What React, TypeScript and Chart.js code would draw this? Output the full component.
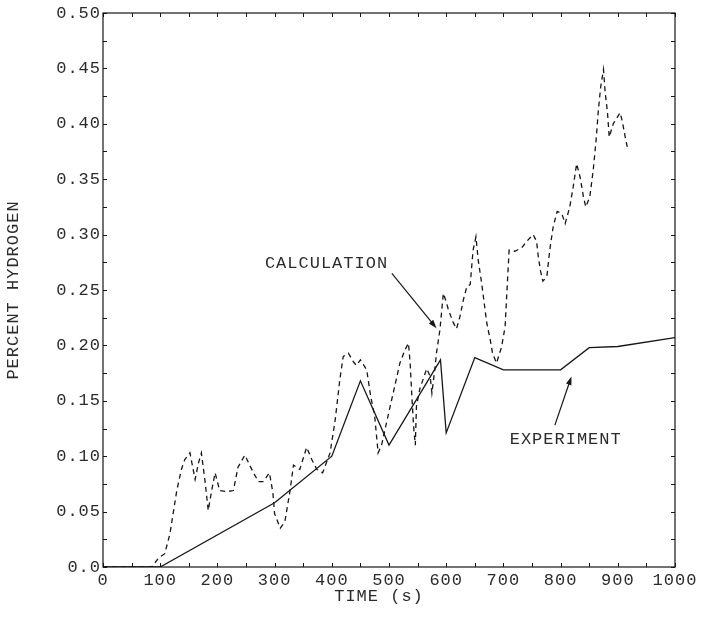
import React, { useEffect, useRef } from "react";
import { Chart, registerables } from "chart.js";

Chart.register(...registerables);

// Measured hydrogen concentration (solid line)
const experimentTime = [0, 100, 300, 400, 450, 500, 590, 600, 650, 700, 800, 850, 900, 1000];
const experimentPct = [0, 0, 0.058, 0.1, 0.168, 0.11, 0.187, 0.121, 0.189, 0.178, 0.178, 0.198, 0.199, 0.207];

// Computed hydrogen concentration (dashed line)
const calculationTime = [
  0, 40, 85, 97, 108, 117, 129, 137, 143, 152, 161, 167, 172, 178, 184, 190, 196, 204, 216, 228,
  236, 248, 263, 272, 280, 291, 297, 300, 310, 318, 327, 333, 344, 356, 365, 374, 384, 397, 406, 414,
  420, 429, 438, 443, 450, 461, 468, 475, 481, 487, 493, 502, 510, 519, 528, 534, 537, 540, 543, 546,
  548, 554, 566, 572, 575, 580, 583, 589, 595, 599, 604, 612, 618, 624, 630, 636, 642, 647, 652, 656,
  662, 671, 677, 681, 688, 697, 703, 706, 710, 720, 732, 741, 752, 758, 761, 765, 769, 776, 781, 787,
  794, 802, 808, 816, 822, 828, 834, 840, 844, 851, 857, 862, 866, 870, 875, 878, 882, 885, 892, 904,
  908, 914, 918,
];
const calculationPct = [
  0, 0, 0, 0.008, 0.012, 0.03, 0.069, 0.088, 0.097, 0.103, 0.079, 0.094, 0.103, 0.079, 0.051, 0.069, 0.085, 0.069, 0.068, 0.069,
  0.09, 0.101, 0.085, 0.077, 0.077, 0.085, 0.067, 0.048, 0.035, 0.041, 0.069, 0.092, 0.088, 0.108, 0.097, 0.088, 0.085, 0.103, 0.133, 0.169,
  0.19, 0.193, 0.185, 0.182, 0.187, 0.178, 0.154, 0.136, 0.103, 0.11, 0.124, 0.145, 0.163, 0.184, 0.196, 0.202, 0.184, 0.154, 0.127, 0.11,
  0.145, 0.161, 0.179, 0.172, 0.157, 0.178, 0.193, 0.214, 0.247, 0.241, 0.232, 0.221, 0.215, 0.226, 0.241, 0.253, 0.255, 0.286, 0.298, 0.277,
  0.256, 0.22, 0.205, 0.193, 0.184, 0.199, 0.217, 0.247, 0.286, 0.285, 0.288, 0.294, 0.3, 0.294, 0.28, 0.267, 0.258, 0.262, 0.286, 0.307,
  0.321, 0.319, 0.31, 0.325, 0.343, 0.364, 0.352, 0.334, 0.325, 0.334, 0.358, 0.385, 0.412, 0.433, 0.449, 0.428, 0.41, 0.388, 0.4, 0.41,
  0.402, 0.385, 0.376,
];

// Axis ranges and tick spacing
const timeRange = [0, 1000];
const pctRange = [0, 0.5];
const timeLabelStep = 100;
const timeMinorStep = 50;
const pctLabelStep = 0.05;
const pctMinorStep = 0.025;

// Callout labels: text position and arrow (tail -> head) in data units
const calloutText = ["CALCULATION", "EXPERIMENT"];
const calloutTextAt = [
  [283, 0.274],
  [711, 0.1155],
];
const calloutArrow = [
  [505, 0.265, 583, 0.2155],
  [790, 0.128, 819, 0.172],
];

const FONT = "'Liberation Mono', 'DejaVu Sans Mono', monospace";
const INK = "#161616";
const TEXT = "#2b2b2b";
const SPACING = "1px";

const toPoints = (xs: number[], ys: number[]) => xs.map((x, i) => ({ x, y: ys[i] }));

const framePlugin = {
  id: "frameAndCallouts",
  beforeDraw(chart: any) {
    chart.ctx.letterSpacing = SPACING;
  },
  afterDraw(chart: any) {
    const { ctx, chartArea } = chart;
    const xs = chart.scales.x;
    const ys = chart.scales.y;
    const { left, right, top, bottom } = chartArea;
    ctx.save();
    ctx.letterSpacing = SPACING;

    // plot frame
    ctx.strokeStyle = INK;
    ctx.lineWidth = 1.2;
    ctx.strokeRect(left, top, right - left, bottom - top);

    // inward tick marks on all four sides
    const tl = 4;
    ctx.lineWidth = 1;
    ctx.beginPath();
    for (let t = timeRange[0]; t <= timeRange[1] + 1e-9; t += timeMinorStep) {
      const px = Math.round(xs.getPixelForValue(t)) + 0.5;
      ctx.moveTo(px, bottom);
      ctx.lineTo(px, bottom - tl);
      ctx.moveTo(px, top);
      ctx.lineTo(px, top + tl);
    }
    for (let v = pctRange[0]; v <= pctRange[1] + 1e-9; v += pctMinorStep) {
      const py = Math.round(ys.getPixelForValue(v)) + 0.5;
      ctx.moveTo(left, py);
      ctx.lineTo(left + tl, py);
      ctx.moveTo(right, py);
      ctx.lineTo(right - tl, py);
    }
    ctx.stroke();

    // x-axis title
    ctx.fillStyle = TEXT;
    ctx.font = `17px ${FONT}`;
    ctx.textAlign = "center";
    ctx.textBaseline = "middle";
    ctx.fillText("TIME (s)", (left + right) / 2 - 10, bottom + 29);

    // callouts
    ctx.textAlign = "left";
    calloutText.forEach((label, i) => {
      const [tx, ty] = calloutTextAt[i];
      ctx.fillStyle = TEXT;
      ctx.fillText(label, xs.getPixelForValue(tx), ys.getPixelForValue(ty));

      const [x0, y0, x1, y1] = calloutArrow[i];
      const ax = xs.getPixelForValue(x0);
      const ay = ys.getPixelForValue(y0);
      const bx = xs.getPixelForValue(x1);
      const by = ys.getPixelForValue(y1);
      const ang = Math.atan2(by - ay, bx - ax);
      const head = 9;
      const wing = 0.32;
      ctx.strokeStyle = INK;
      ctx.lineWidth = 1.2;
      ctx.beginPath();
      ctx.moveTo(ax, ay);
      ctx.lineTo(bx - Math.cos(ang) * head * 0.8, by - Math.sin(ang) * head * 0.8);
      ctx.stroke();
      ctx.fillStyle = INK;
      ctx.beginPath();
      ctx.moveTo(bx, by);
      ctx.lineTo(bx - head * Math.cos(ang - wing), by - head * Math.sin(ang - wing));
      ctx.lineTo(bx - head * Math.cos(ang + wing), by - head * Math.sin(ang + wing));
      ctx.closePath();
      ctx.fill();
    });
    ctx.restore();
  },
};

export default function App() {
  const canvasRef = useRef<HTMLCanvasElement | null>(null);

  useEffect(() => {
    if (!canvasRef.current) return;
    const chart = new Chart(canvasRef.current, {
      type: "line",
      data: {
        datasets: [
          {
            label: "CALCULATION",
            data: toPoints(calculationTime, calculationPct),
            borderColor: INK,
            borderWidth: 1.3,
            borderDash: [5, 4],
            pointRadius: 0,
            tension: 0,
            fill: false,
          },
          {
            label: "EXPERIMENT",
            data: toPoints(experimentTime, experimentPct),
            borderColor: INK,
            borderWidth: 1.3,
            pointRadius: 0,
            tension: 0,
            fill: false,
          },
        ],
      },
      options: {
        animation: false,
        responsive: true,
        maintainAspectRatio: false,
        devicePixelRatio: 1,
        layout: { padding: { left: 0, right: 34, top: 13, bottom: 0 } },
        plugins: {
          legend: { display: false },
          tooltip: { enabled: false },
          title: { display: false },
        },
        scales: {
          x: {
            type: "linear",
            min: timeRange[0],
            max: timeRange[1],
            grid: { display: false, drawTicks: false },
            border: { display: false },
            ticks: {
              stepSize: timeLabelStep,
              padding: 3,
              color: TEXT,
              font: { family: FONT, size: 17 },
              maxRotation: 0,
              autoSkip: false,
              callback: (v: any) => String(v),
            },
            afterFit: (scale: any) => {
              scale.height = 59;
            },
          },
          y: {
            type: "linear",
            min: pctRange[0],
            max: pctRange[1],
            grid: { display: false, drawTicks: false },
            border: { display: false },
            title: {
              display: true,
              text: "PERCENT HYDROGEN",
              color: TEXT,
              font: { family: FONT, size: 17 },
              padding: { top: 3, bottom: 0 },
            },
            ticks: {
              stepSize: pctLabelStep,
              padding: 2,
              color: TEXT,
              font: { family: FONT, size: 17 },
              autoSkip: false,
              callback: (v: any) => (Number(v) === 0 ? "0.0" : Number(v).toFixed(2)),
            },
            afterFit: (scale: any) => {
              scale.width = 103;
            },
          },
        },
      },
      plugins: [framePlugin],
    });
    return () => chart.destroy();
  }, []);

  return (
    <div style={{ position: "absolute", left: 0, top: 0, width: 709, height: 626, background: "#fff" }}>
      <canvas ref={canvasRef} />
    </div>
  );
}
